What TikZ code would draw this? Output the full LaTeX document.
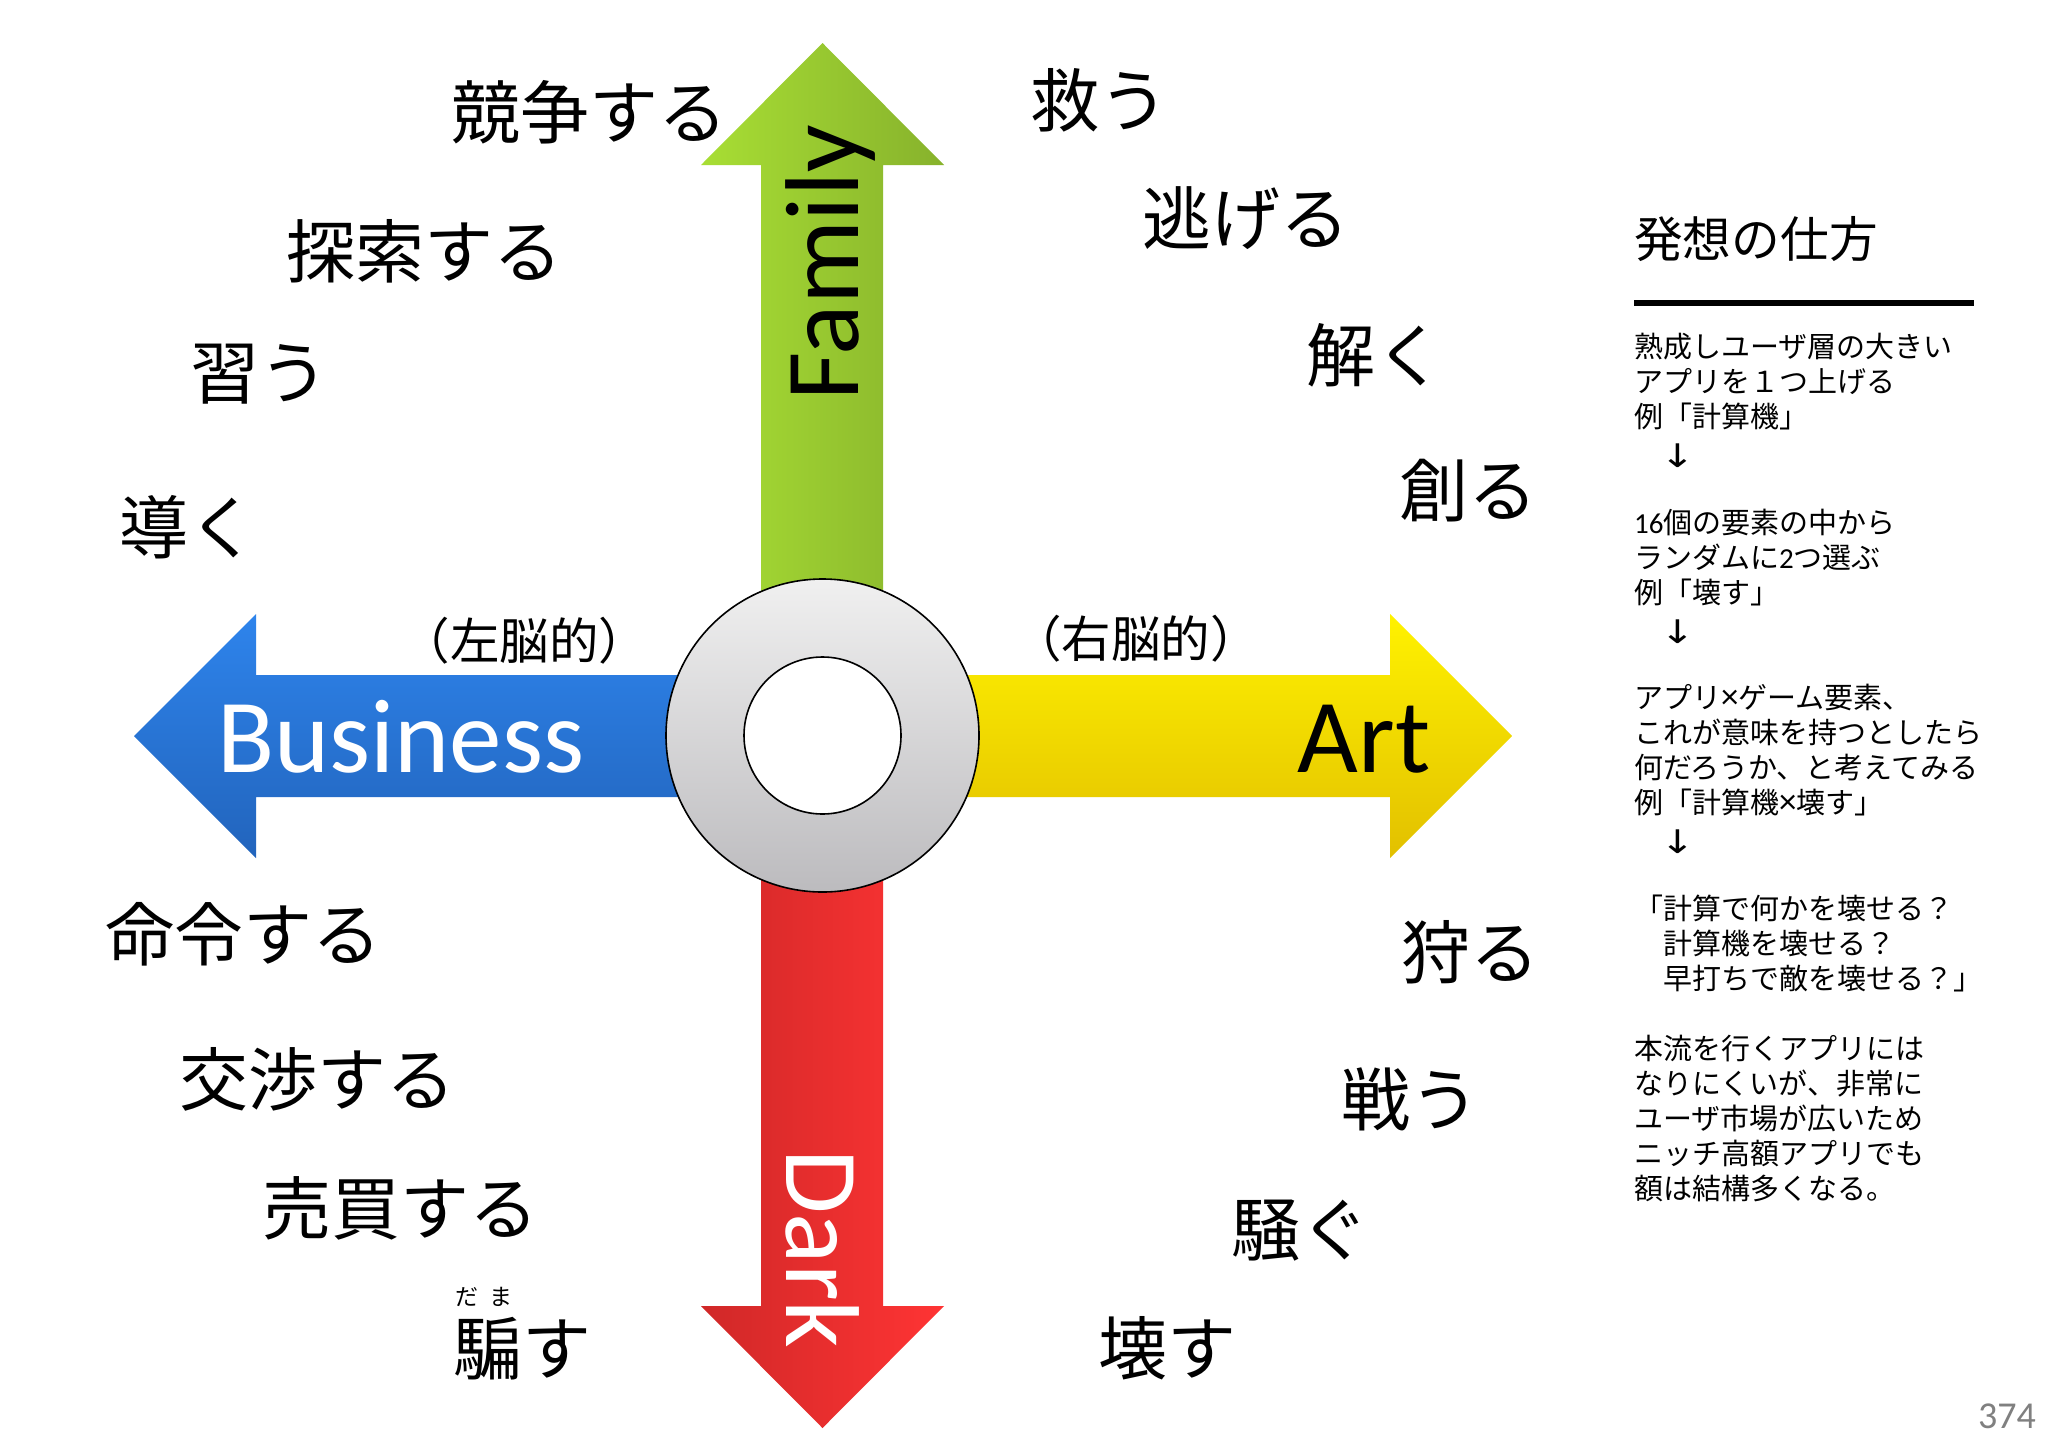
\documentclass[tikz,border=0pt]{standalone}
\usepackage{fontspec}
\setmainfont{Noto Sans CJK JP}
\newfontfamily\latinf{Carlito}
\newfontfamily\arrowf{DejaVu Sans}
\definecolor{grA}{RGB}{168,222,52}
\definecolor{grB}{RGB}{135,178,44}
\definecolor{blA}{RGB}{46,132,236}
\definecolor{blB}{RGB}{34,100,188}
\definecolor{yeA}{RGB}{255,242,0}
\definecolor{yeB}{RGB}{226,192,0}
\definecolor{reA}{RGB}{208,40,40}
\definecolor{reB}{RGB}{255,52,52}
\definecolor{rnA}{RGB}{240,240,240}
\definecolor{rnB}{RGB}{188,187,190}
\tikzset{
  word/.style={inner sep=0pt,anchor=center,text height=60pt,text depth=9pt,font=\fontsize{69}{69}\selectfont},
  paren/.style={inner sep=0pt,anchor=center,text height=43pt,text depth=6.5pt,font=\fontsize{49.5}{49.5}\selectfont},
  axis/.style={inner sep=0pt,anchor=base,font=\latinf\fontsize{105}{105}\selectfont},
  body/.style={inner sep=0pt,anchor=north west,align=left,font=\fontsize{29}{35.1}\selectfont},
}
\newcommand{\lt}[1]{{\latinf #1}}
\newcommand{\tms}{{\latinf\fontsize{35}{35.1}\selectfont ×}}
\newcommand{\dn}{　\hspace{-2.5pt}\raisebox{-5pt}{\scalebox{1.6}[1.25]{\arrowf\fontsize{26}{26}\selectfont ↓}}}
\begin{document}
\begin{tikzpicture}[x=1pt,y=-1pt]
\useasboundingbox (0,0) rectangle (2048,1448);
\fill[white] (0,0) rectangle (2048,1448);
% arrows
\shade[left color=grA,right color=grB] (822.5,43) -- (944,165) -- (883,165) -- (883,640) -- (761,640) -- (761,165) -- (701,165) -- cycle;
\shade[left color=reA,right color=reB] (822.5,1428) -- (944,1306) -- (883,1306) -- (883,830) -- (761,830) -- (761,1306) -- (701,1306) -- cycle;
\shade[top color=blA,bottom color=blB] (134,736) -- (256,614) -- (256,675) -- (720,675) -- (720,797) -- (256,797) -- (256,858) -- cycle;
\shade[top color=yeA,bottom color=yeB] (1512,736) -- (1390,614) -- (1390,675) -- (930,675) -- (930,797) -- (1390,797) -- (1390,858) -- cycle;
% ring
\node (ring) at (822.5,735.5) [circle,draw=black,line width=1.6pt,minimum size=313pt,inner sep=0pt,top color=rnA,bottom color=rnB] {};
\node (hole) at (ring.center) [circle,draw=black,line width=1.6pt,fill=white,minimum size=157pt,inner sep=0pt] {};
% axis labels
\node[axis,white] (biz) at (401,772) {Business};
\node[axis,black] (art) at (1364,772) {Art};
\node[axis,black,rotate=90] (fam) at (858,263) {Family};
\node[axis,white,rotate=-90] (dark) at (786,1249) {Dark};
\node[paren] (lb) at (524.5,641) {（左脳的）};
\node[paren] (rb) at (1136,639) {（右脳的）};
% verbs
\node[word] (w1) at (589,113) {競争する};
\node[word] (w2) at (424,252) {探索する};
\node[word] (w3) at (259.5,373) {習う};
\node[word] (w4) at (188,528) {導く};
\node[word] (w5) at (243.5,935) {命令する};
\node[word] (w6) at (317,1080) {交渉する};
\node[word] (w7) at (400.5,1209) {売買する};
\node[word] (w8) at (522,1349) {騙す};
\node[inner sep=0pt,font=\fontsize{23}{23}\selectfont] (ruby) at (484,1297) {だ\hspace{11pt}ま};
\node[word] (e1) at (1099,101) {救う};
\node[word] (e2) at (1246,219) {逃げる};
\node[word] (e3) at (1375,356) {解く};
\node[word] (e4) at (1468,491) {創る};
\node[word] (e5) at (1470,953) {狩る};
\node[word] (e6) at (1410,1100) {戦う};
\node[word] (e7) at (1300,1230) {騒ぐ};
\node[word] (e8) at (1167.5,1349) {壊す};
% side panel
\node[inner sep=0pt,anchor=west,text height=42pt,text depth=6pt,font=\fontsize{48.7}{48.7}\selectfont] (title) at (1634,239) {発想の仕方};
\coordinate (ra) at (1634,303);
\coordinate (rb2) at (1974,303);
\draw[line width=6pt,black] (ra) -- (rb2);
\node[body] (txt) at (1634,333) {熟成しユーザ層の大きい\\
アプリを１つ上げる\\
例「計算機」\\
\dn\\
~\\
\lt{16}個の要素の中から\\
ランダムに\lt{2}つ選ぶ\\
例「壊す」\\
\dn\\
~\\
アプリ\tms ゲーム要素、\\
これが意味を持つとしたら\\
何だろうか、と考えてみる\\
例「計算機\tms 壊す」\\
\dn\\
~\\
「計算で何かを壊せる？\\
　計算機を壊せる？\\
　早打ちで敵を壊せる？」\\
~\\
本流を行くアプリには\\
なりにくいが、非常に\\
ユーザ市場が広いため\\
ニッチ高額アプリでも\\
額は結構多くなる。};
\node[inner sep=0pt,anchor=base east,text=black!50,font=\latinf\fontsize{38}{38}\selectfont] (pg) at (2036,1428) {374};
\end{tikzpicture}
\end{document}
